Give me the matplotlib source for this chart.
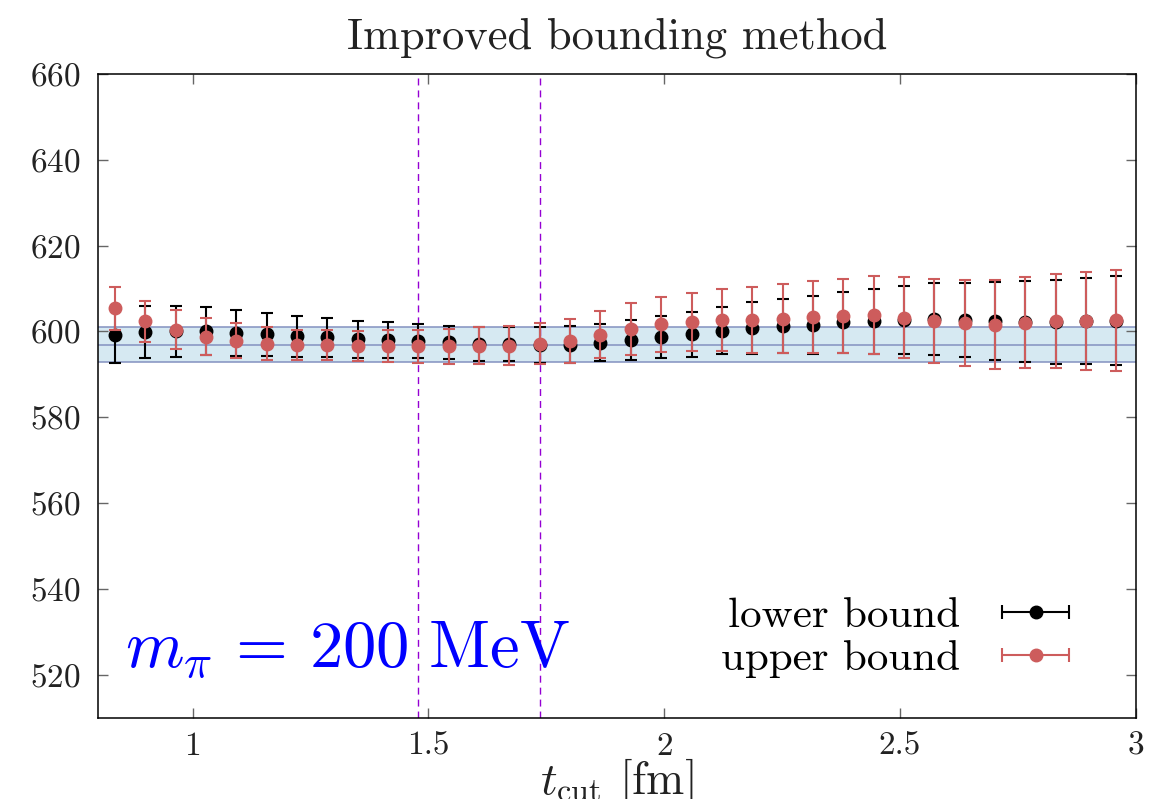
import matplotlib
matplotlib.use("Agg")
import matplotlib.pyplot as plt
from matplotlib.ticker import FormatStrFormatter
from matplotlib.legend_handler import HandlerErrorbar
from matplotlib.container import ErrorbarContainer

plt.rcParams['font.family'] = 'serif'
plt.rcParams['font.serif'] = ['cmr10']
plt.rcParams['mathtext.fontset'] = 'cm'
plt.rcParams['axes.formatter.use_mathtext'] = True

# t_cut values [fm]
t_cut = [0.835, 0.899, 0.964, 1.028, 1.092, 1.157, 1.221, 1.285, 1.350, 1.414,
         1.478, 1.543, 1.607, 1.671, 1.736, 1.800, 1.864, 1.929, 1.993, 2.058,
         2.122, 2.186, 2.251, 2.315, 2.379, 2.444, 2.508, 2.572, 2.637, 2.701,
         2.765, 2.830, 2.894, 2.958]

lower = [599.1, 599.9, 600.0, 600.1, 599.6, 599.3, 598.9, 598.6, 598.2, 597.9,
         597.7, 597.5, 597.1, 597.05, 596.9, 596.9, 597.4, 598.0, 598.7, 599.4,
         600.2, 600.8, 601.2, 601.6, 602.1, 602.4, 602.7, 602.8, 602.7, 602.5,
         602.3, 602.3, 602.4, 602.5]
lower_err = [6.4, 6.1, 5.9, 5.5, 5.35, 5.05, 4.8, 4.55, 4.35, 4.2,
             4.0, 3.85, 3.95, 4.05, 4.2, 4.3, 4.35, 4.7, 4.9, 5.25,
             5.55, 6.0, 6.3, 6.75, 7.2, 7.6, 8.0, 8.4, 8.7, 9.1,
             9.45, 9.8, 10.1, 10.4]

upper = [605.35, 602.35, 600.4, 598.8, 597.85, 597.1, 596.8, 596.8, 596.6, 596.6,
         596.5, 596.5, 596.65, 596.7, 597.1, 597.75, 599.25, 600.55, 601.65, 602.15,
         602.65, 602.6, 602.95, 603.35, 603.6, 603.8, 603.25, 602.5, 602.0, 601.6,
         602.0, 602.4, 602.5, 602.6]
upper_err = [5.05, 4.75, 4.5, 4.3, 4.15, 3.85, 3.5, 3.5, 3.55, 3.65,
             3.9, 4.1, 4.35, 4.5, 4.8, 5.1, 5.55, 6.05, 6.35, 6.75,
             7.15, 7.7, 8.05, 8.45, 8.7, 9.1, 9.35, 9.8, 10.0, 10.3,
             10.6, 11.0, 11.4, 11.7]

band_value = 596.9
band_err = 4.08
fit_window = [1.478, 1.736]

black = 'black'
red = '#cd5c5c'

fig = plt.figure(figsize=(11.64, 7.99), dpi=100)
ax = fig.add_axes([0.0845, 0.1018, 0.8912, 0.8056])

# fitted band
ax.axhspan(band_value - band_err, band_value + band_err, facecolor='#d6e9f2',
           edgecolor='none', zorder=1)
for yv in (band_value - band_err, band_value, band_value + band_err):
    ax.axhline(yv, color='#8391c0', lw=1.1, zorder=1.5)

for xv in fit_window:
    ax.axvline(xv, color='#9400d3', lw=1.0, ls=(0, (5, 3.6)), zorder=2)

ax.errorbar(t_cut, lower, yerr=lower_err, fmt='o', color=black, ms=9,
            elinewidth=1.5, capsize=4, capthick=1.5, zorder=3)
ax.errorbar(t_cut, upper, yerr=upper_err, fmt='o', color=red, ecolor=red, ms=9,
            elinewidth=1.5, capsize=4, capthick=1.5, zorder=4)

# legend proxies with horizontal bars, as in the original (off-screen point)
h_low = ax.errorbar([-10], [0], xerr=[1], fmt='o', color=black, ms=9,
                    elinewidth=1.5, capsize=5, capthick=1.5)
h_up = ax.errorbar([-10], [0], xerr=[1], fmt='o', color=red, ms=9,
                   elinewidth=1.5, capsize=5, capthick=1.5)
ax.legend([h_low, h_up], ['lower bound', 'upper bound'], markerfirst=False,
          frameon=False, fontsize=31, handlelength=2.0, handletextpad=0.75,
          labelspacing=0.12, borderpad=0, borderaxespad=0,
          loc='center right', bbox_to_anchor=(0.945, 0.1246),
          handler_map={ErrorbarContainer: HandlerErrorbar(xerr_size=0.78)})

ax.text(0.026, 0.08, r'$m_\pi\,=\,200\ \mathrm{MeV}$', transform=ax.transAxes,
        color='blue', fontsize=48, va='baseline', ha='left')

ax.set_xlim(0.8, 3.0)
ax.set_ylim(510, 660)
ax.set_xticks([1, 1.5, 2, 2.5, 3])
ax.set_yticks(range(520, 661, 20))
ax.xaxis.set_major_formatter(FormatStrFormatter('%g'))
ax.tick_params(direction='in', top=True, right=True, length=7, width=1,
               color='#666666', labelsize=24, labelcolor='#222222')
ax.tick_params(axis='x', pad=10)
ax.tick_params(axis='y', pad=13)
for s in ax.spines.values():
    s.set_linewidth(1.1)

ax.set_title('Improved bounding method', fontsize=32, pad=18, color='#222222')
ax.set_xlabel(r'$t_{\rm cut}$ [fm]', fontsize=33, labelpad=-3, color='#222222')

fig.savefig('out.png', dpi=100)
